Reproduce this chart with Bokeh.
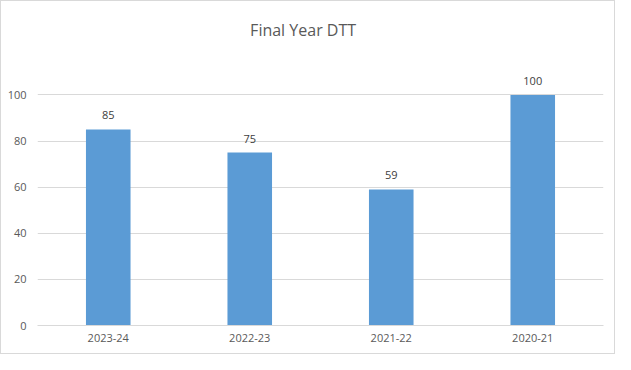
from bokeh.plotting import figure
from bokeh.models import FactorRange, Range1d, FixedTicker, ColumnDataSource, LabelSet, Label
from bokeh.core.properties import value
from bokeh.embed import file_html
from bokeh.resources import INLINE

categories = ["2023-24", "2022-23", "2021-22", "2020-21"]
values = [85, 75, 59, 100]
y_ticks = [0, 20, 40, 60, 80, 100]
title_text = "Final Year DTT"

source = ColumnDataSource(dict(cat=categories, val=values, lbl=[str(v) for v in values]))

p = figure(width=613, height=352,
           x_range=FactorRange(*categories, range_padding=0),
           y_range=Range1d(0, 140.5),
           output_backend="svg", toolbar_location=None,
           min_border_left=36, min_border_right=13,
           min_border_bottom=30, min_border_top=0,
           background_fill_color="white", border_fill_color="white")
p.outline_line_color = None
p.styles = {"border": "1px solid #d9d9d9", "box-sizing": "content-box"}

title = Label(x=1.877, y=128.0, text=title_text, text_align="center",
              text_baseline="alphabetic", text_font="Open Sans",
              text_font_size="16px", text_color="#595959")
p.add_layout(title)

p.vbar(x="cat", top="val", width=0.315, source=source, color="#5b9bd5", line_color=None)

labels = LabelSet(x="cat", y="val", text="lbl", source=source, y_offset=10,
                  text_align="center", text_baseline="alphabetic",
                  text_font=value("Open Sans"), text_font_size=value("11px"),
                  text_color=value("#404040"))
p.add_layout(labels)

p.yaxis.ticker = FixedTicker(ticks=y_ticks)
p.ygrid.ticker = FixedTicker(ticks=y_ticks)
p.ygrid.grid_line_color = "#d9d9d9"
p.xgrid.grid_line_color = None

for ax in (p.xaxis, p.yaxis):
    ax.major_tick_line_color = None
    ax.minor_tick_line_color = None
    ax.major_tick_out = 0
    ax.major_tick_in = 0
    ax.minor_tick_out = 0
    ax.minor_tick_in = 0
    ax.major_label_text_font = "Open Sans"
    ax.major_label_text_font_size = "11px"
    ax.major_label_text_color = "#595959"
p.yaxis.axis_line_color = None
p.xaxis.axis_line_color = "#d9d9d9"
p.yaxis.major_label_standoff = 11
p.xaxis.major_label_standoff = 8

open("out.html", "w").write(file_html(p, INLINE))
